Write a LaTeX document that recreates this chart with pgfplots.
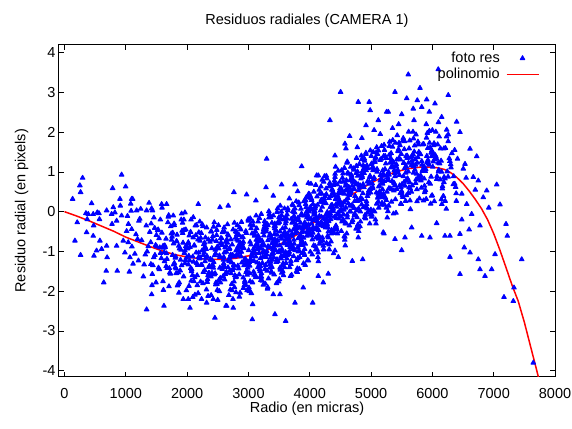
\documentclass[border=0pt]{standalone}
\usepackage{fontspec}
\setmainfont{Liberation Sans}
\usepackage{pgfplots}
\pgfplotsset{compat=1.18}
\newcommand\fs{\fontsize{14.5}{17.4}\selectfont}
\pgfplotsset{
  scatlegend/.style={legend image code/.code={\draw[mark repeat=2,mark phase=2,##1] plot coordinates {(0pt,0pt) (16pt,0pt) (32pt,0pt)};}},
  linelegend/.style={legend image code/.code={\draw[##1] (0pt,0pt) -- (32pt,0pt);}},
}
\begin{document}
\begin{tikzpicture}
\useasboundingbox (-59pt,-51.3pt) rectangle (513pt,376.7pt);
\begin{axis}[
  at={(0pt,0pt)}, anchor=south west,
  scale only axis, width=496pt, height=332pt,
  xmin=-90, xmax=8000, ymin=-4.15, ymax=4.2,
  xtick={0,1000,...,8000}, ytick={-4,-3,...,4},
  scaled x ticks=false,
  /pgf/number format/assume math mode=true,
  /pgf/number format/1000 sep={},
  tick align=inside, xtick pos=both, ytick pos=both,
  major tick length=5pt,
  every tick/.style={black, line width=0.8pt},
  axis line style={line width=1pt},
  tick label style={font=\fs},
  xticklabel style={anchor=base, yshift=-22pt},
  yticklabel style={anchor=east},
  title={Residuos radiales (CAMERA 1)},
  title style={font=\fs, at={(axis description cs:0.5,1.042)}, anchor=base},
  xlabel={Radio (en micras)},
  xlabel style={font=\fs, at={(axis description cs:0.5,-0.1093)}, anchor=base},
  ylabel={Residuo radial (en pixels)},
  ylabel style={font=\fs, at={(axis description cs:-0.0754,0.5)}, anchor=center},
  legend plot pos=right,
  legend cell align=right,
  legend style={draw=none, fill=none, font=\fs, inner sep=0pt, outer sep=0pt,
    at={(axis description cs:0.9683,0.9831)}, anchor=north east,
    column sep=4.5pt,
    nodes={inner sep=1.5pt, text height=10.5pt, text depth=2.5pt}},
]
\addplot[only marks, mark=triangle*, mark size=2.6pt, color=blue, mark options={line width=1pt, line join=round}, scatlegend]
coordinates {
(132,0.32) (207,-0.27) (251,0.66) (262,0.49) (295,0.85) (170,-0.73) (262,-1.09) (349,-0.04) (370,-0.19) (360,-0.52) (387,-0.06) (442,0.21) (468,-0.06) (475,-0.35) (468,-0.61) (480,-1.11) (523,-0.98) (534,-0.02) (561,-0.04) (570,-0.19) (577,-0.73) (605,-0.94) (640,-1.78) (687,-0.86) (695,-1.15) (680,-1.49) (687,0.03) (768,-0.06) (775,-0.31) (785,0.59) (795,0.11) (822,-0.02) (850,-0.23) (850,-0.86) (860,-1.49) (904,0.32) (910,0.15) (931,0.93) (931,-0.10) (958,-0.73) (985,-1.03) (997,0.63) (1039,-0.77) (1067,-1.15) (1080,0.20) (1095,0.32) (1095,-0.44)
(1013,-0.49) (1147,-1.06) (1086,0.02) (1191,-0.69) (1042,-0.31) (1118,-1.31) (1165,-0.57) (1027,-0.11) (1099,-0.88) (1058,-1.51)
(1213,-0.23) (1347,-1.00) (1286,-1.63) (1391,-0.51) (1242,0.07) (1318,-1.08) (1365,-0.87) (1227,-0.18) (1299,-1.33) (1258,-0.72) (1379,0.22) (1206,-1.23) (1333,-0.35)
(1413,-0.30) (1547,-1.45) (1486,-0.84) (1591,0.10) (1442,-1.35) (1518,-0.47) (1565,-1.04) (1427,-1.85) (1499,-0.59) (1458,-0.15) (1579,-1.17) (1406,-0.77) (1533,-1.41) (1471,-0.41) (1554,-0.90) (1435,0.03)
(1613,-1.97) (1747,-0.71) (1686,-0.27) (1791,-1.29) (1642,-0.89) (1718,-1.53) (1765,-0.53) (1627,-1.02) (1699,-0.09) (1658,-1.37) (1779,-0.80) (1606,-1.75) (1733,-0.37) (1671,-1.19) (1754,-0.63) (1635,-0.85) (1710,-1.42) (1788,-0.34) (1664,-1.05)
(1813,-1.13) (1947,-0.20) (1886,-1.48) (1991,-0.91) (1842,-1.86) (1918,-0.48) (1965,-1.30) (1827,-0.74) (1899,-0.96) (1858,-1.53) (1979,-0.45) (1806,-1.16) (1933,-0.78) (1871,-1.78) (1954,-1.04) (1835,-0.58) (1910,-1.35) (1988,-1.98) (1864,-0.86) (1925,-0.28) (1819,-1.43) (1972,-1.22)
(2013,-0.81) (2147,-1.03) (2086,-1.60) (2191,-0.52) (2042,-1.23) (2118,-0.85) (2165,-1.85) (2027,-1.11) (2099,-0.65) (2058,-1.42) (2179,-2.05) (2006,-0.93) (2133,-0.35) (2071,-1.50) (2154,-1.29) (2035,-0.60) (2110,-1.75) (2188,-1.14) (2064,-0.20) (2125,-1.65) (2019,-0.77) (2172,-1.34) (2092,-2.15) (2047,-0.89)
(2213,-1.16) (2347,-0.70) (2286,-1.47) (2391,-2.10) (2242,-0.98) (2318,-0.40) (2365,-1.55) (2227,-1.34) (2299,-0.65) (2258,-1.80) (2379,-1.19) (2206,-0.25) (2333,-1.70) (2271,-0.82) (2354,-1.39) (2235,-2.20) (2310,-0.94) (2388,-0.50) (2264,-1.52) (2325,-1.12) (2219,-1.76) (2372,-0.76) (2292,-1.25) (2247,-0.32) (2340,-1.60) (2280,-1.03)
(2413,-1.36) (2547,-0.67) (2486,-1.82) (2591,-1.21) (2442,-0.27) (2518,-1.72) (2565,-0.84) (2427,-1.41) (2499,-2.22) (2458,-0.96) (2579,-0.52) (2406,-1.54) (2533,-1.14) (2471,-1.78) (2554,-0.78) (2435,-1.27) (2510,-0.34) (2588,-1.62) (2464,-1.05) (2525,-2.00) (2419,-0.62) (2572,-1.44) (2492,-0.88) (2447,-1.10) (2540,-1.67) (2480,-0.59) (2596,-1.30) (2403,-0.92)
(2613,-1.39) (2747,-2.20) (2686,-0.94) (2791,-0.50) (2642,-1.52) (2718,-1.12) (2765,-1.76) (2627,-0.76) (2699,-1.25) (2658,-0.32) (2779,-1.60) (2606,-1.03) (2733,-1.98) (2671,-0.60) (2754,-1.42) (2635,-0.86) (2710,-1.08) (2788,-1.65) (2664,-0.57) (2725,-1.28) (2619,-0.90) (2772,-1.90) (2692,-1.16) (2647,-0.70) (2740,-1.47) (2680,-2.10) (2796,-0.98) (2603,-0.40) (2716,-1.55) (2760,-1.34)
(2813,-0.70) (2947,-1.19) (2886,-0.26) (2991,-1.54) (2842,-0.97) (2918,-1.92) (2965,-0.54) (2827,-1.36) (2899,-0.80) (2858,-1.02) (2979,-1.59) (2806,-0.51) (2933,-1.22) (2871,-0.84) (2954,-1.84) (2835,-1.10) (2910,-0.64) (2988,-1.41) (2864,-2.04) (2925,-0.92) (2819,-0.34) (2972,-1.49) (2892,-1.28) (2847,-0.59) (2940,-1.74) (2880,-1.13) (2996,-0.19) (2803,-1.64) (2916,-0.76) (2960,-1.33) (2852,-2.14) (2829,-0.88)
(3013,-1.27) (3147,-0.71) (3086,-0.93) (3191,-1.50) (3042,-0.42) (3118,-1.13) (3165,-0.75) (3027,-1.75) (3099,-1.01) (3058,-0.55) (3179,-1.32) (3006,-1.95) (3133,-0.83) (3071,-0.25) (3154,-1.40) (3035,-1.19) (3110,-0.50) (3188,-1.65) (3064,-1.04) (3125,-0.10) (3019,-1.55) (3172,-0.67) (3092,-1.24) (3047,-2.05) (3140,-0.79) (3080,-0.35) (3196,-1.37) (3003,-0.97) (3116,-1.61) (3160,-0.61) (3052,-1.10) (3029,-0.17) (3183,-1.45) (3104,-0.88)
(3213,-1.64) (3347,-0.90) (3286,-0.44) (3391,-1.21) (3242,-1.84) (3318,-0.72) (3365,-0.14) (3227,-1.29) (3299,-1.08) (3258,-0.39) (3379,-1.54) (3206,-0.93) (3333,0.01) (3271,-1.44) (3354,-0.56) (3235,-1.13) (3310,-1.94) (3388,-0.68) (3264,-0.24) (3325,-1.26) (3219,-0.86) (3372,-1.50) (3292,-0.50) (3247,-0.99) (3340,-0.06) (3280,-1.34) (3396,-0.77) (3203,-1.72) (3316,-0.34) (3360,-1.16) (3252,-0.60) (3229,-0.82) (3383,-1.39) (3304,-0.31) (3267,-1.02)
(3413,-1.15) (3547,-0.94) (3486,-0.25) (3591,-1.40) (3442,-0.79) (3518,0.15) (3565,-1.30) (3427,-0.42) (3499,-0.99) (3458,-1.80) (3579,-0.54) (3406,-0.10) (3533,-1.12) (3471,-0.72) (3554,-1.36) (3435,-0.36) (3510,-0.85) (3588,0.08) (3464,-1.20) (3525,-0.63) (3419,-1.58) (3572,-0.20) (3492,-1.02) (3447,-0.46) (3540,-0.68) (3480,-1.25) (3596,-0.17) (3403,-0.88) (3516,-0.50) (3560,-1.50) (3452,-0.76) (3429,-0.30) (3583,-1.07) (3504,-1.70) (3467,-0.58) (3536,0.00)
(3613,-0.24) (3747,-0.81) (3686,-1.62) (3791,-0.36) (3642,0.08) (3718,-0.94) (3765,-0.54) (3627,-1.18) (3699,-0.18) (3658,-0.67) (3779,0.26) (3606,-1.02) (3733,-0.45) (3671,-1.40) (3754,-0.02) (3635,-0.84) (3710,-0.28) (3788,-0.50) (3664,-1.07) (3725,0.01) (3619,-0.70) (3772,-0.32) (3692,-1.32) (3647,-0.58) (3740,-0.12) (3680,-0.89) (3796,-1.52) (3603,-0.40) (3716,0.18) (3760,-0.97) (3652,-0.76) (3629,-0.07) (3783,-1.22) (3704,-0.61) (3667,0.33) (3736,-1.12)
(3813,-1.00) (3947,0.00) (3886,-0.49) (3991,0.44) (3842,-0.84) (3918,-0.27) (3965,-1.22) (3827,0.16) (3899,-0.66) (3858,-0.10) (3979,-0.32) (3806,-0.89) (3933,0.19) (3871,-0.52) (3954,-0.14) (3835,-1.14) (3910,-0.40) (3988,0.06) (3864,-0.71) (3925,-1.34) (3819,-0.22) (3972,0.36) (3892,-0.79) (3847,-0.58) (3940,0.11) (3880,-1.04) (3996,-0.43) (3803,0.51) (3916,-0.94) (3960,-0.06) (3852,-0.63) (3829,-1.44) (3983,-0.18) (3904,0.26) (3867,-0.76) (3936,-0.36)
(4013,0.35) (4147,-0.47) (4086,0.09) (4191,-0.13) (4042,-0.70) (4118,0.38) (4165,-0.33) (4027,0.05) (4099,-0.95) (4058,-0.21) (4179,0.25) (4006,-0.52) (4133,-1.15) (4071,-0.03) (4154,0.55) (4035,-0.60) (4110,-0.39) (4188,0.30) (4064,-0.85) (4125,-0.24) (4019,0.70) (4172,-0.75) (4092,0.13) (4047,-0.44) (4140,-1.25) (4080,0.01) (4196,0.45) (4003,-0.57) (4116,-0.17) (4160,-0.81) (4052,0.19) (4029,-0.30) (4183,0.63) (4104,-0.65) (4067,-0.08) (4136,-1.03)
(4213,0.25) (4347,-0.75) (4286,-0.01) (4391,0.45) (4242,-0.32) (4318,-0.95) (4365,0.17) (4227,0.75) (4299,-0.40) (4258,-0.19) (4379,0.50) (4206,-0.65) (4333,-0.04) (4271,0.90) (4354,-0.55) (4235,0.33) (4310,-0.24) (4388,-1.05) (4264,0.21) (4325,0.65) (4219,-0.37) (4372,0.03) (4292,-0.61) (4247,0.39) (4340,-0.10) (4280,0.83) (4396,-0.45) (4203,0.12) (4316,-0.83) (4360,0.55) (4252,-0.27) (4229,0.29) (4383,0.07) (4304,-0.50) (4267,0.58)
(4413,0.95) (4547,-0.20) (4486,0.01) (4591,0.70) (4442,-0.45) (4518,0.16) (4565,1.10) (4427,-0.35) (4499,0.53) (4458,-0.04) (4579,-0.85) (4406,0.41) (4533,0.85) (4471,-0.17) (4554,0.23) (4435,-0.41) (4510,0.59) (4588,0.10) (4464,1.03) (4525,-0.25) (4419,0.32) (4572,-0.63) (4492,0.75) (4447,-0.07) (4540,0.49) (4480,0.27) (4596,-0.30) (4403,0.78) (4516,0.07) (4560,0.45) (4452,-0.55) (4429,0.19) (4583,0.65) (4504,-0.12)
(4613,-0.15) (4747,0.73) (4686,0.16) (4791,-0.65) (4642,0.61) (4718,1.05) (4765,0.03) (4627,0.43) (4699,-0.21) (4658,0.79) (4779,0.30) (4606,1.23) (4733,-0.05) (4671,0.52) (4754,-0.43) (4635,0.95) (4710,0.13) (4788,0.69) (4664,0.47) (4725,-0.10) (4619,0.98) (4772,0.27) (4692,0.65) (4647,-0.35) (4740,0.39) (4680,0.85) (4796,0.08) (4603,-0.55) (4716,0.57) (4760,1.15) (4652,0.00) (4629,0.21) (4783,0.90)
(4813,0.61) (4947,-0.03) (4886,0.97) (4991,0.48) (4842,1.41) (4918,0.13) (4965,0.70) (4827,-0.25) (4899,1.13) (4858,0.31) (4979,0.87) (4806,0.65) (4933,0.08) (4871,1.16) (4954,0.45) (4835,0.83) (4910,-0.17) (4988,0.57) (4864,1.03) (4925,0.26) (4819,-0.37) (4972,0.75) (4892,1.33) (4847,0.18) (4940,0.39) (4880,1.08) (4996,-0.07) (4803,0.54) (4916,1.48) (4960,0.03) (4852,0.91) (4829,0.34)
(5013,-0.08) (5147,1.30) (5086,0.48) (5191,1.04) (5042,0.82) (5118,0.25) (5165,1.33) (5027,0.62) (5099,1.00) (5058,0.00) (5179,0.74) (5006,1.20) (5133,0.43) (5071,-0.20) (5154,0.92) (5035,1.50) (5110,0.35) (5188,0.56) (5064,1.25) (5125,0.10) (5019,0.71) (5172,1.65) (5092,0.20) (5047,1.08) (5140,0.51) (5080,-0.30) (5196,0.96) (5003,1.40) (5116,0.38) (5160,0.78)
(5213,0.77) (5347,1.15) (5286,0.15) (5391,0.89) (5242,1.35) (5318,0.58) (5365,-0.05) (5227,1.07) (5299,1.65) (5258,0.50) (5379,0.71) (5206,1.40) (5333,0.25) (5271,0.86) (5354,1.80) (5235,0.35) (5310,1.23) (5388,0.66) (5264,-0.15) (5325,1.11) (5219,1.55) (5372,0.53) (5292,0.93) (5247,0.29) (5340,1.29) (5280,0.80) (5396,1.73) (5203,0.45)
(5413,1.19) (5547,1.77) (5486,0.62) (5591,0.83) (5442,1.52) (5518,0.37) (5565,0.98) (5427,1.92) (5499,0.47) (5458,1.35) (5579,0.78) (5406,-0.03) (5533,1.23) (5471,1.67) (5554,0.65) (5435,1.05) (5510,0.41) (5588,1.41) (5464,0.92) (5525,1.85) (5419,0.57) (5572,1.14) (5492,0.19) (5447,1.57) (5540,0.75) (5480,1.31)
(5613,2.01) (5747,0.56) (5686,1.44) (5791,0.87) (5642,0.06) (5718,1.32) (5765,1.76) (5627,0.74) (5699,1.14) (5658,0.50) (5779,1.50) (5606,1.01) (5733,1.94) (5671,0.66) (5754,1.23) (5635,0.28) (5710,1.66) (5788,0.84) (5664,1.40) (5725,1.18) (5619,0.61) (5772,1.69) (5692,0.98) (5647,1.36)
(5813,0.78) (5947,1.18) (5886,0.54) (5991,1.54) (5842,1.05) (5918,1.98) (5965,0.70) (5827,1.27) (5899,0.32) (5858,1.70) (5979,0.88) (5806,1.44) (5933,1.22) (5871,0.65) (5954,1.73) (5835,1.02) (5910,1.40) (5988,0.40) (5864,1.14) (5925,1.60) (5819,0.83) (5972,0.20)
(6013,1.26) (6147,0.31) (6086,1.69) (6191,0.87) (6042,1.43) (6118,1.21) (6165,0.64) (6027,1.72) (6099,1.01) (6058,1.39) (6179,0.39) (6006,1.13) (6133,1.59) (6071,0.82) (6154,0.19) (6035,1.31) (6110,1.89) (6188,0.74)
(6213,1.60) (6347,0.89) (6286,1.27) (6391,0.27) (6242,1.01) (6318,1.47) (6365,0.70) (6227,0.07) (6299,1.19) (6258,1.77) (6379,0.62) (6206,0.83)
(6396,2.26) (6450,2.00) (6614,1.58) (6723,1.39) (6532,1.20) (6504,1.08) (6410,1.33) (6667,0.87) (6749,0.78) (6886,0.53) (7049,0.68) (6830,0.36) (7103,0.18) (6560,0.19) (6641,-0.06) (6776,-0.35) (6450,-0.56) (6287,-0.61) (6205,-0.61) (6070,-0.29) (5961,-0.65) (5826,-0.61) (5662,-0.40) (5553,-0.65) (5390,-0.69) (5499,-0.97) (5210,-0.55) (6614,-1.03) (6749,-1.20) (6287,-1.14) (6450,-1.57) (6776,-1.45) (6858,-1.62) (6967,-1.45) (7022,-1.07) (7222,-0.61) (7201,-0.31) (7457,-1.20) (7168,-2.15) (7320,-2.25) (7331,-1.91) (7646,-3.80) (6480,0.45) (6550,0.85) (6700,0.55) (6920,0.10) (6600,-0.45) (6480,-0.20) (6520,-0.90)
(5607,3.45) (6096,3.58) (5798,3.11) (5390,3.01) (6259,2.93) (5581,2.85) (5754,2.80) (5907,2.82) (6042,2.72) (5688,2.59) (5826,2.63) (5281,2.51) (5950,2.51) (6152,2.38) (6233,2.06) (6259,1.94) (4503,3.01) (4791,2.76) (4970,2.76) (4985,2.55) (4329,2.30) (4917,2.17) (5118,2.30) (5254,2.51) (3297,1.33) (3868,1.14) (2763,0.49) (2970,0.43) (4574,1.71) (4590,1.59) (4775,1.62) (4411,1.41) (4112,0.91) (4140,0.91) (3541,0.68) (3759,0.68) (3976,0.72) (3286,0.61) (3405,0.40) (3122,0.28) (5450,2.20) (5700,2.30) (5900,2.20) (6000,2.05) (5150,1.95) (4850,1.85) (4650,1.90) (5500,2.45) (6100,2.25) (5350,2.10) (5050,2.05)
(1339,-2.46) (2453,-2.67) (1421,-2.08) (1622,-2.37) (2046,-2.42) (2318,-2.29) (2426,-2.20) (2644,-2.37) (1937,-2.20) (2018,-2.20) (3063,-2.71) (3432,-2.58) (3607,-2.75) (2633,-2.37) (2752,-2.42) (3759,-2.29) (4047,-2.29) (3068,-2.33) (3405,-2.08) (3514,-2.08) (3894,-1.91) (4139,-1.62) (4220,-1.78) (4302,-1.56) (4411,-0.98) (4465,-1.14) (4694,-1.24) (4863,-1.20) (5199,-0.52)
(1111,0.32) (1176,0.03) (1339,0.03) (1421,0.08) (1584,0.19) (1665,0.19) (1774,-0.10) (1910,-0.05) (1964,-0.02) (2100,-0.14) (2182,0.19) (2535,0.11) (2670,0.15)
(1475,-1.09) (1588,-0.53) (1431,-1.57) (1542,-0.67) (1504,-0.88) (1409,-1.32) (1563,-0.20) (1456,-1.15) (1527,-0.45) (1492,-1.78)
(1675,-1.42) (1788,-0.30) (1631,-1.25) (1742,-0.55) (1704,-1.88) (1609,-0.86) (1763,-1.09) (1656,-0.68) (1727,-1.56) (1692,-0.13) (1778,-1.33) (1621,-0.91)
(1875,-0.93) (1988,-1.16) (1831,-0.75) (1942,-1.63) (1904,-0.20) (1809,-1.40) (1963,-0.98) (1856,-1.82) (1927,-0.54) (1892,-1.21) (1978,-0.87) (1821,-1.55) (1950,-0.46) (1866,-2.04)
(2075,-1.45) (2188,-1.03) (2031,-1.87) (2142,-0.59) (2104,-1.26) (2009,-0.92) (2163,-1.60) (2056,-0.51) (2127,-2.09) (2092,-1.13) (2178,-0.70) (2021,-1.33) (2150,-0.34) (2066,-1.74) (2115,-0.85) (2197,-1.18)
(2275,-0.95) (2388,-1.63) (2231,-0.54) (2342,-2.12) (2304,-1.16) (2209,-0.73) (2363,-1.36) (2256,-0.37) (2327,-1.77) (2292,-0.88) (2378,-1.21) (2221,-0.66) (2350,-1.54) (2266,-1.09) (2315,-1.96) (2397,-0.50) (2240,-1.34) (2284,-0.78)
(2475,-0.74) (2588,-1.37) (2431,-0.38) (2542,-1.78) (2504,-0.89) (2409,-1.22) (2563,-0.67) (2456,-1.55) (2527,-1.10) (2492,-1.97) (2578,-0.51) (2421,-1.35) (2550,-0.79) (2466,-1.83) (2515,-0.93) (2597,-1.14) (2440,-1.58) (2484,-0.46) (2534,-1.41) (2412,-0.71)
(2675,-1.21) (2788,-0.66) (2631,-1.54) (2742,-1.09) (2704,-1.96) (2609,-0.50) (2763,-1.34) (2656,-0.78) (2727,-1.82) (2692,-0.92) (2778,-1.13) (2621,-1.57) (2750,-0.45) (2666,-1.40) (2715,-0.70) (2797,-2.03) (2640,-1.01) (2684,-1.24) (2734,-0.83) (2612,-1.71) (2771,-0.28) (2698,-1.48)
(2875,-0.45) (2988,-1.29) (2831,-0.73) (2942,-1.77) (2904,-0.87) (2809,-1.08) (2963,-1.52) (2856,-0.40) (2927,-1.35) (2892,-0.65) (2978,-1.98) (2821,-0.96) (2950,-1.19) (2866,-0.78) (2915,-1.66) (2997,-0.23) (2840,-1.43) (2884,-1.01) (2934,-1.85) (2812,-0.57) (2971,-1.24) (2898,-0.90) (2849,-1.58) (2957,-0.49)
(3075,-1.01) (3188,-1.45) (3031,-0.33) (3142,-1.28) (3104,-0.58) (3009,-1.91) (3163,-0.89) (3056,-1.12) (3127,-0.71) (3092,-1.59) (3178,-0.16) (3021,-1.36) (3150,-0.94) (3066,-1.78) (3115,-0.50) (3197,-1.17) (3040,-0.83) (3084,-1.51) (3134,-0.42) (3012,-2.00) (3171,-1.04) (3098,-0.61) (3049,-1.24) (3157,-0.25) (3119,-1.65) (3026,-0.76)
(3275,-1.81) (3388,-0.79) (3231,-1.02) (3342,-0.61) (3304,-1.49) (3209,-0.06) (3363,-1.26) (3256,-0.84) (3327,-1.68) (3292,-0.40) (3378,-1.07) (3221,-0.73) (3350,-1.41) (3266,-0.32) (3315,-1.90) (3397,-0.94) (3240,-0.51) (3284,-1.14) (3334,-0.15) (3212,-1.55) (3371,-0.66) (3298,-0.99) (3249,-0.44) (3357,-1.32) (3319,-0.87) (3226,-1.74) (3383,-0.28) (3270,-1.12)
(3475,0.08) (3588,-1.12) (3431,-0.70) (3542,-1.54) (3504,-0.26) (3409,-0.93) (3563,-0.59) (3456,-1.27) (3527,-0.18) (3492,-1.76) (3578,-0.80) (3421,-0.37) (3550,-1.00) (3466,-0.01) (3515,-1.41) (3597,-0.52) (3440,-0.85) (3484,-0.30) (3534,-1.18) (3412,-0.73) (3571,-1.60) (3498,-0.14) (3449,-0.98) (3557,-0.42) (3519,-1.46) (3426,-0.56) (3583,-0.77) (3470,-1.21) (3540,-0.09) (3404,-1.04)
(3675,-0.76) (3788,-0.42) (3631,-1.10) (3742,-0.01) (3704,-1.59) (3609,-0.63) (3763,-0.20) (3656,-0.83) (3727,0.16) (3692,-1.24) (3778,-0.35) (3621,-0.68) (3750,-0.13) (3666,-1.01) (3715,-0.56) (3797,-1.43) (3640,0.03) (3684,-0.81) (3734,-0.25) (3612,-1.29) (3771,-0.39) (3698,-0.60) (3649,-1.04) (3757,0.08) (3719,-0.87) (3626,-0.17) (3783,-1.50) (3670,-0.48) (3740,-0.71) (3604,-0.30)
(3875,-0.43) (3988,0.00) (3831,-0.63) (3942,0.36) (3904,-1.04) (3809,-0.15) (3963,-0.48) (3856,0.07) (3927,-0.81) (3892,-0.36) (3978,-1.23) (3821,0.23) (3950,-0.61) (3866,-0.05) (3915,-1.09) (3997,-0.19) (3840,-0.40) (3884,-0.84) (3934,0.28) (3812,-0.67) (3971,0.03) (3898,-1.30) (3849,-0.28) (3957,-0.51) (3919,-0.10) (3826,-0.98) (3983,0.45) (3870,-0.75) (3940,-0.33) (3804,-1.17)
(4075,0.07) (4188,-0.26) (4031,0.29) (4142,-0.59) (4104,-0.14) (4009,-1.01) (4163,0.45) (4056,-0.39) (4127,0.17) (4092,-0.87) (4178,0.03) (4021,-0.18) (4150,-0.62) (4066,0.50) (4115,-0.45) (4197,0.25) (4040,-1.08) (4084,-0.06) (4134,-0.29) (4012,0.12) (4171,-0.76) (4098,0.67) (4049,-0.53) (4157,-0.11) (4119,-0.95) (4026,0.33) (4183,-0.34) (4070,0.00) (4140,-0.68) (4004,0.41)
(4275,-0.79) (4388,0.67) (4231,-0.17) (4342,0.39) (4304,-0.65) (4209,0.25) (4363,0.04) (4256,-0.40) (4327,0.72) (4292,-0.23) (4378,0.47) (4221,-0.86) (4350,0.16) (4266,-0.07) (4315,0.34) (4397,-0.54) (4240,0.89) (4284,-0.31) (4334,0.11) (4212,-0.73) (4371,0.55) (4298,-0.12) (4249,0.22) (4357,-0.46) (4319,0.63) (4226,-0.95) (4383,0.01) (4270,0.44) (4340,-0.19) (4204,0.80)
(4475,0.49) (4588,0.28) (4431,-0.16) (4542,0.96) (4504,0.01) (4409,0.71) (4563,-0.62) (4456,0.40) (4527,0.17) (4492,0.58) (4578,-0.30) (4421,1.13) (4550,-0.07) (4466,0.35) (4515,-0.49) (4597,0.79) (4440,0.12) (4484,0.46) (4534,-0.22) (4412,0.87) (4571,-0.71) (4498,0.25) (4449,0.68) (4557,0.05) (4519,1.04) (4426,-0.36) (4583,0.53) (4470,0.20) (4540,0.75) (4404,-0.13)
(4675,0.93) (4788,-0.40) (4631,0.62) (4742,0.39) (4704,0.80) (4609,-0.08) (4763,1.35) (4656,0.15) (4727,0.57) (4692,-0.27) (4778,1.01) (4621,0.34) (4750,0.68) (4666,0.00) (4715,1.09) (4797,-0.49) (4640,0.47) (4684,0.90) (4734,0.27) (4612,1.26) (4771,-0.14) (4698,0.75) (4649,0.42) (4757,0.97) (4719,0.09) (4626,0.54) (4783,-0.33) (4670,1.13)
(4875,0.11) (4988,1.54) (4831,0.34) (4942,0.76) (4904,-0.08) (4809,1.20) (4963,0.53) (4856,0.87) (4927,0.19) (4892,1.28) (4978,-0.30) (4821,0.66) (4950,1.09) (4866,0.46) (4915,1.45) (4997,0.05) (4840,0.94) (4884,0.61) (4934,1.16) (4812,0.28) (4971,0.73) (4898,-0.14) (4849,1.32) (4957,0.48) (4919,1.04) (4826,0.00) (4983,0.90) (4870,0.69)
(5075,1.37) (5188,0.70) (5031,1.04) (5142,0.36) (5104,1.45) (5009,-0.13) (5163,0.83) (5056,1.26) (5127,0.63) (5092,1.62) (5178,0.22) (5021,1.11) (5150,0.78) (5066,1.33) (5115,0.45) (5197,0.90) (5040,0.03) (5084,1.49) (5134,0.65) (5012,1.21) (5171,0.17) (5098,1.07) (5049,0.86) (5157,0.42) (5119,1.54) (5026,0.59)
(5275,0.01) (5388,0.97) (5231,1.40) (5342,0.77) (5304,1.76) (5209,0.36) (5363,1.25) (5256,0.92) (5327,1.47) (5292,0.59) (5378,1.04) (5221,0.17) (5350,1.63) (5266,0.79) (5315,1.35) (5397,0.31) (5240,1.21) (5284,1.00) (5334,0.56) (5212,1.68) (5371,0.73) (5298,1.43) (5249,0.10) (5357,1.12)
(5475,0.46) (5588,1.35) (5431,1.02) (5542,1.57) (5504,0.69) (5409,1.14) (5563,0.27) (5456,1.73) (5527,0.89) (5492,1.45) (5578,0.41) (5421,1.31) (5550,1.10) (5466,0.66) (5515,1.78) (5597,0.83) (5440,1.53) (5484,0.20) (5534,1.22) (5412,0.99) (5571,1.40) (5498,0.52)
(5675,1.20) (5788,0.33) (5631,1.79) (5742,0.95) (5704,1.51) (5609,0.47) (5763,1.37) (5656,1.16) (5727,0.72) (5692,1.84) (5778,0.89) (5621,1.59) (5750,0.26) (5666,1.28) (5715,1.05) (5797,1.46) (5640,0.58) (5684,2.01) (5734,0.81) (5612,1.23)
(5875,0.49) (5988,1.39) (5831,1.18) (5942,0.74) (5904,1.86) (5809,0.91) (5963,1.61) (5856,0.28) (5927,1.30) (5892,1.07) (5978,1.48) (5821,0.60) (5950,2.03) (5866,0.83) (5915,1.25) (5997,0.41) (5840,1.69) (5884,1.02)
(6075,0.89) (6188,1.59) (6031,0.26) (6142,1.28) (6104,1.05) (6009,1.46) (6163,0.58) (6056,2.01) (6127,0.81) (6092,1.23) (6178,0.39) (6021,1.67) (6150,1.00) (6066,1.34)
(6275,1.34) (6388,0.46) (6231,1.89) (6342,0.69) (6304,1.11) (6209,0.27) (6363,1.55) (6256,0.88)
};
\addlegendentry{foto res}
\addplot[color=red, line width=1.5pt, mark=none, linelegend]
coordinates {
(0,0) (200,-0.11) (400,-0.23) (600,-0.36) (800,-0.49) (1000,-0.64) (1200,-0.76) (1400,-0.88) (1600,-0.99) (1800,-1.08) (2000,-1.14) (2200,-1.18) (2400,-1.20) (2600,-1.20) (2800,-1.17) (3000,-1.11) (3200,-1.02) (3400,-0.91) (3600,-0.75) (3800,-0.57) (4000,-0.34) (4200,-0.14) (4400,0.10) (4600,0.33) (4800,0.54) (5000,0.72) (5200,0.88) (5400,1.00) (5600,1.08) (5800,1.12) (6000,1.12) (6100,1.10) (6200,1.06) (6300,0.98) (6400,0.86) (6500,0.71) (6600,0.52) (6700,0.31) (6800,0.08) (6900,-0.20) (7000,-0.55) (7100,-0.96) (7200,-1.40) (7300,-1.85) (7400,-2.25) (7500,-2.78) (7600,-3.38) (7700,-3.98) (7760,-4.35)
};
\addlegendentry{polinomio}
\end{axis}
\end{tikzpicture}
\end{document}
